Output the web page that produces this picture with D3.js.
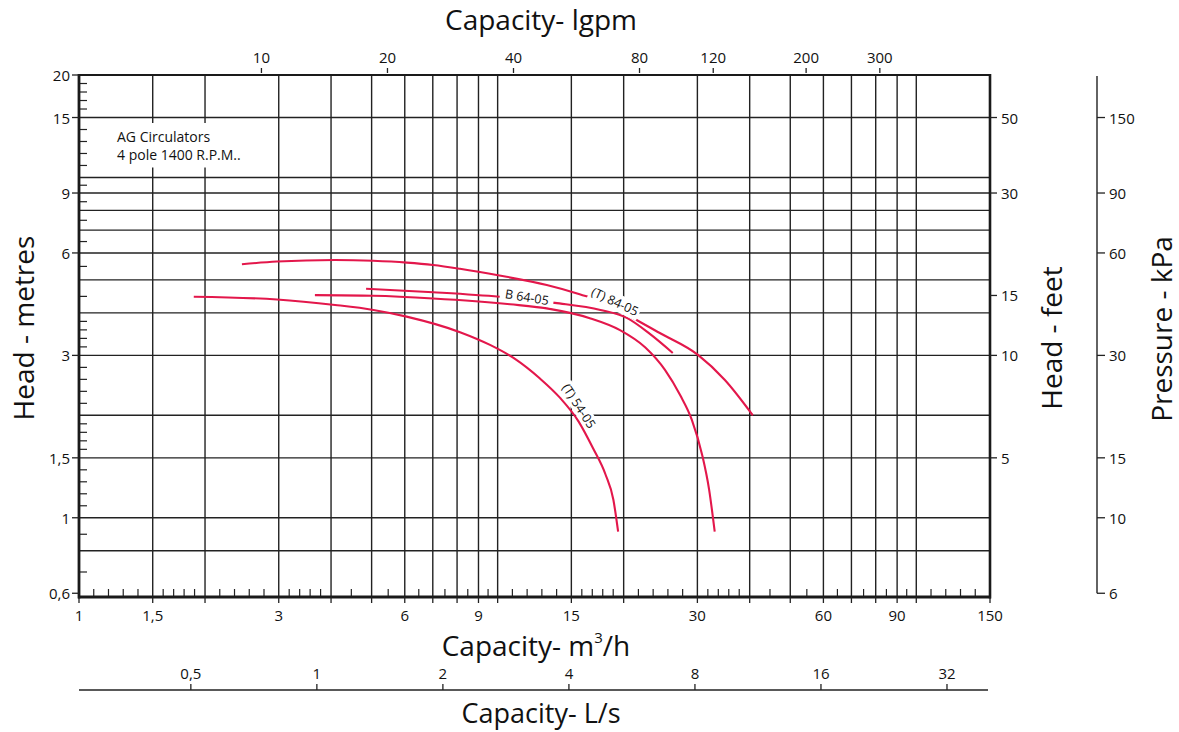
<!DOCTYPE html>
<html><head><meta charset="utf-8">
<script src="https://cdn.jsdelivr.net/npm/d3@7"></script>
<style>
body{margin:0;background:#fff}
svg{display:block}
text{font-family:"Open Sans","Noto Sans",sans-serif;fill:#111}
</style>
</head><body>
<svg id="c" width="1179" height="732"></svg>
<script>
// ---------------- data ----------------
// Capacity (m3/h) and head (m)
const series84_q = [2.45, 2.97, 4.09, 5.04, 6.07, 7.01, 8.13, 10.1, 13.1, 15.7, 18.6, 20.7, 24.4, 30.1, 34.9, 40.7];
const series84_h = [5.56, 5.66, 5.72, 5.69, 5.62, 5.53, 5.39, 5.15, 4.83, 4.54, 4.22, 3.91, 3.49, 3.01, 2.54, 2.00];
const series64_q = [4.85, 7.01, 10.1, 13.7, 17.6, 20.4, 23.1, 26.2];
const series64_h = [4.71, 4.60, 4.46, 4.28, 4.08, 3.86, 3.47, 3.05];
const seriesD_q = [3.66, 5.04, 7.01, 10.7, 13.3, 16.6, 19.6, 22.5, 25.1, 27.3, 29.1, 30.8, 32.0, 33.0];
const seriesD_h = [4.51, 4.49, 4.41, 4.24, 4.11, 3.86, 3.56, 3.17, 2.72, 2.29, 1.94, 1.53, 1.21, 0.91];
const series54_q = [1.88, 2.97, 4.09, 5.05, 6.06, 8.13, 9.59, 11.0, 12.6, 14.1, 15.6, 16.9, 18.1, 18.9, 19.4];
const series54_h = [4.46, 4.38, 4.22, 4.08, 3.90, 3.51, 3.22, 2.93, 2.57, 2.25, 1.92, 1.60, 1.34, 1.13, 0.91];

const labelTexts = ["(T) 84-05", "B 64-05", "(T) 54-05"];
const labelQ = [19.06, 11.75, 15.64];
const labelH = [4.32, 4.45, 2.13];

// axes
const xMajors = [1, 1.5, 2, 3, 4, 5, 6, 7, 8, 9, 10, 15, 20, 30, 40, 50, 60, 70, 80, 90, 100, 150];
const xTickLabels = [1, 1.5, 3, 6, 9, 15, 30, 60, 90, 150];
const yMajors = [0.6, 0.8, 1, 1.5, 2, 3, 4, 5, 6, 7, 8, 9, 10, 15, 20];
const yGrid = [0.8, 1, 1.5, 2, 3, 4, 5, 6, 7, 8, 9, 10, 15];
const yTickLabels = [0.6, 1, 1.5, 3, 6, 9, 15, 20];
const feetTicks = [5, 10, 15, 30, 50];
const kpaTicks = [6, 10, 15, 30, 60, 90, 150];
const igpmTicks = [10, 20, 40, 80, 120, 200, 300];
const lsTicks = [0.5, 1, 2, 4, 8, 16, 32];

// ---------------- layout ----------------
const L = 79, R = 990, T = 75, B = 597;
const RED = "#e3174b";
const INK = "#222";
const svg = d3.select("#c");
const fmt = d => String(d).replace(".", ",");

const x = d3.scaleLog().domain([1, 150]).range([L, R]);
const y = d3.scaleLog().domain([0.585, 20]).range([B, T]);
const yFt = d3.scaleLog().domain([0.585 / 0.3, 20 / 0.3]).range([B, T]);
const yKpa = d3.scaleLog().domain([5.85, 200]).range([B, T]);
const xIgpm = d3.scaleLog().domain([3.666, 150 * 3.666]).range([L, R]);
const xLs = d3.scaleLog().domain([1 / 3.7, 150 / 3.7]).range([L, R]);

// ---------------- grid ----------------
const grid = svg.append("g").attr("stroke", INK).attr("stroke-width", 1.4);
grid.selectAll("line.v").data(xMajors.filter(d => d > 1 && d < 150)).join("line")
  .attr("x1", d => x(d)).attr("x2", d => x(d)).attr("y1", T).attr("y2", B);
grid.selectAll("line.h").data(yGrid).join("line")
  .attr("x1", L).attr("x2", R).attr("y1", d => y(d)).attr("y2", d => y(d));

// minor ticks (geometric subdivisions between majors)
function minors(majors) {
  const out = [];
  for (let i = 0; i < majors.length - 1; i++) {
    const a = majors[i], b = majors[i + 1];
    const m = a / Math.pow(10, Math.floor(Math.log10(a) + 1e-9));
    const n = (m < 3.5) ? 5 : 2;
    for (let k = 1; k < n; k++) out.push(a * Math.pow(b / a, k / n));
  }
  return out;
}
const mt = svg.append("g").attr("stroke", INK).attr("stroke-width", 1.2);
mt.selectAll("line.xm").data(minors(xMajors)).join("line")
  .attr("x1", d => x(d)).attr("x2", d => x(d)).attr("y1", B).attr("y2", B - 8);
mt.selectAll("line.ym").data(minors(yMajors)).join("line")
  .attr("x1", L).attr("x2", L + 8).attr("y1", d => y(d)).attr("y2", d => y(d));

// annotation box
const ann = svg.append("g");
const annBg = ann.append("rect").attr("fill", "#fff");
const annT = ann.append("text").attr("font-size", 14).attr("x", 117).attr("y", 142);
annT.append("tspan").attr("x", 117).attr("dy", 0).text("AG Circulators");
annT.append("tspan").attr("x", 117).attr("dy", 17.5).text("4 pole 1400 R.P.M..");
const ab = annT.node().getBBox();
annBg.attr("x", ab.x - 7).attr("y", ab.y - 4).attr("width", ab.width + 12).attr("height", ab.height + 8);

// ---------------- labels & curves ----------------
const labelAngles = [25, 9, 57];
function addLabel(i, layer) {
  const g = layer.append("g")
    .attr("transform", `translate(${x(labelQ[i])},${y(labelH[i])}) rotate(${labelAngles[i]})`);
  const bg = g.append("rect").attr("fill", "#fff");
  const t = g.append("text").attr("font-size", 12.5).attr("text-anchor", "middle")
    .attr("dominant-baseline", "central").text(labelTexts[i]);
  const bb = t.node().getBBox();
  const p = [2, 5, 1][i];
  const shrink = [0, 2, 1][i];
  bg.attr("x", bb.x - p).attr("y", bb.y + shrink)
    .attr("width", bb.width + 2 * p).attr("height", bb.height - 2 * shrink);
}
const below = svg.append("g");
addLabel(2, below);

const line = d3.line().x(d => x(d[0])).y(d => y(d[1])).curve(d3.curveMonotoneX);
const allSeries = [
  d3.zip(series84_q, series84_h),
  d3.zip(series64_q, series64_h),
  d3.zip(seriesD_q, seriesD_h),
  d3.zip(series54_q, series54_h)
];
svg.append("g").selectAll("path").data(allSeries).join("path")
  .attr("d", line).attr("fill", "none").attr("stroke", RED).attr("stroke-width", 2.1);

const above = svg.append("g");
addLabel(0, above);
addLabel(1, above);

// ---------------- frame ----------------
const fr = svg.append("g").attr("stroke", "#1a1a1a");
fr.append("line").attr("x1", L).attr("x2", L).attr("y1", T - 1).attr("y2", B + 1.5).attr("stroke-width", 2.8);
fr.append("line").attr("x1", L - 1).attr("x2", R + 1).attr("y1", B).attr("y2", B).attr("stroke-width", 2.8);
fr.append("line").attr("x1", L - 1).attr("x2", R + 1).attr("y1", T).attr("y2", T).attr("stroke-width", 2.2);
fr.append("line").attr("x1", R).attr("x2", R).attr("y1", T - 1).attr("y2", B + 1.5).attr("stroke-width", 2.6);

// bottom axis ticks + labels
const bx = svg.append("g");
bx.selectAll("line").data(xMajors).join("line").attr("stroke", INK).attr("stroke-width", 1.3)
  .attr("x1", d => x(d)).attr("x2", d => x(d)).attr("y1", B).attr("y2", B + 6);
bx.selectAll("text").data(xTickLabels).join("text").attr("font-size", 15).attr("text-anchor", "middle")
  .attr("x", d => x(d)).attr("y", B + 24).text(fmt);

// left axis
const ly = svg.append("g");
ly.selectAll("line").data(yTickLabels).join("line").attr("stroke", INK).attr("stroke-width", 1.3)
  .attr("x1", L - 7).attr("x2", L).attr("y1", d => y(d)).attr("y2", d => y(d));
ly.selectAll("text").data(yTickLabels).join("text").attr("font-size", 15).attr("text-anchor", "end")
  .attr("dominant-baseline", "central").attr("x", L - 9).attr("y", d => y(d)).text(fmt);

// right feet axis
const fy = svg.append("g");
fy.selectAll("line").data(feetTicks).join("line").attr("stroke", INK).attr("stroke-width", 1.3)
  .attr("x1", R).attr("x2", R + 7).attr("y1", d => yFt(d)).attr("y2", d => yFt(d));
fy.selectAll("text").data(feetTicks).join("text").attr("font-size", 15)
  .attr("dominant-baseline", "central").attr("x", R + 11).attr("y", d => yFt(d)).text(fmt);

// kPa axis
const KX = 1097;
const ky = svg.append("g");
ky.append("line").attr("stroke", INK).attr("stroke-width", 1.4)
  .attr("x1", KX).attr("x2", KX).attr("y1", T + 1).attr("y2", yKpa(6));
ky.selectAll("line.t").data(kpaTicks).join("line").attr("stroke", INK).attr("stroke-width", 1.3)
  .attr("x1", KX).attr("x2", KX + 8).attr("y1", d => yKpa(d)).attr("y2", d => yKpa(d));
ky.selectAll("text").data(kpaTicks).join("text").attr("font-size", 15)
  .attr("dominant-baseline", "central").attr("x", KX + 12).attr("y", d => yKpa(d)).text(fmt);

// top Igpm axis
const tx = svg.append("g");
tx.selectAll("line").data(igpmTicks).join("line").attr("stroke", INK).attr("stroke-width", 1.3)
  .attr("x1", d => xIgpm(d)).attr("x2", d => xIgpm(d)).attr("y1", T - 7).attr("y2", T - 2);
tx.selectAll("text").data(igpmTicks).join("text").attr("font-size", 15).attr("text-anchor", "middle")
  .attr("x", d => xIgpm(d)).attr("y", T - 12).text(fmt);

// L/s axis
const LSY = 690;
const lx = svg.append("g");
lx.append("line").attr("stroke", INK).attr("stroke-width", 1.4)
  .attr("x1", L).attr("x2", 988).attr("y1", LSY).attr("y2", LSY);
lx.selectAll("line.t").data(lsTicks).join("line").attr("stroke", INK).attr("stroke-width", 1.3)
  .attr("x1", d => xLs(d)).attr("x2", d => xLs(d)).attr("y1", LSY - 6).attr("y2", LSY);
lx.selectAll("text").data(lsTicks).join("text").attr("font-size", 15).attr("text-anchor", "middle")
  .attr("x", d => xLs(d)).attr("y", LSY - 11).text(fmt);

// ---------------- titles ----------------
const TS = 28;
svg.append("text").attr("font-size", TS).attr("text-anchor", "middle").attr("x", 541).attr("y", 30).text("Capacity- lgpm");
const mt3 = svg.append("text").attr("font-size", TS).attr("text-anchor", "middle").attr("x", 536).attr("y", 656);
mt3.append("tspan").text("Capacity- m");
mt3.append("tspan").attr("font-size", 15).attr("dy", -13).text("3");
mt3.append("tspan").attr("dy", 13).text("/h");
svg.append("text").attr("font-size", 27).attr("text-anchor", "middle").attr("x", 541).attr("y", 723).text("Capacity- L/s");
svg.append("text").attr("font-size", TS).attr("text-anchor", "middle")
  .attr("transform", "translate(34,328) rotate(-90)").text("Head - metres");
svg.append("text").attr("font-size", TS).attr("text-anchor", "middle")
  .attr("transform", "translate(1062,338) rotate(-90)").text("Head - feet");
svg.append("text").attr("font-size", TS).attr("text-anchor", "middle")
  .attr("transform", "translate(1172,329) rotate(-90)").text("Pressure - kPa");
</script>
</body></html>
